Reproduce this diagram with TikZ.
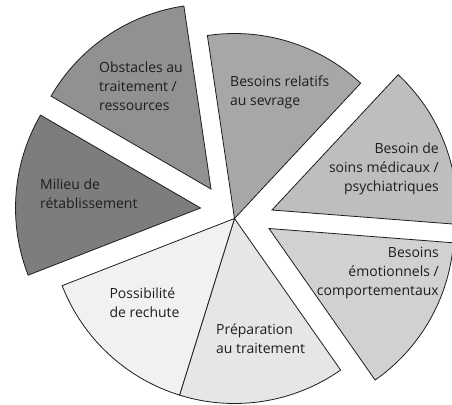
\documentclass[tikz,border=0pt]{standalone}
\usepackage{fontspec}
\setmainfont{Open Sans}
\definecolor{fobst}{RGB}{145,145,146}
\definecolor{fsevr}{RGB}{165,167,169}
\definecolor{fsoin}{RGB}{189,190,191}
\definecolor{femot}{RGB}{208,209,210}
\definecolor{fprep}{RGB}{230,230,230}
\definecolor{fposs}{RGB}{241,241,241}
\definecolor{fmil}{RGB}{125,125,126}
\definecolor{ink}{RGB}{30,30,30}
\begin{document}
\begin{tikzpicture}[x=1pt,y=1pt,
  slice/.style={draw=ink, line width=0.8pt, line join=miter},
  label/.style={inner sep=0pt, text=ink, font=\fontsize{14}{19}\selectfont},
  lbl/.style={label, align=left, anchor=west},
  lbr/.style={label, align=right, anchor=east}]
\useasboundingbox (0,-404) rectangle (452,0);
\clip (0,-404) rectangle (452,0);
\def\R{185}
% slice apexes
\coordinate (c)  at (234.5,-218.5);
\coordinate (co) at (211,-189);
\coordinate (cm) at (200.5,-208);
\coordinate (cs) at (272,-210);
\coordinate (ce) at (269,-228.5);
% sectors, seven equal angles
\draw[slice, fill=fobst] (co) -- ++(98.43:\R) arc[start angle=98.43, end angle=149.86, radius=\R] -- cycle;
\draw[slice, fill=fsevr] (c) -- ++(47:\R) arc[start angle=47, end angle=98.43, radius=\R] -- cycle;
\draw[slice, fill=fsoin] (cs) -- ++(-4.43:\R) arc[start angle=-4.43, end angle=47, radius=\R] -- cycle;
\draw[slice, fill=femot] (ce) -- ++(-55:\R) arc[start angle=-55, end angle=-4.43, radius=\R] -- cycle;
\draw[slice, fill=fprep] (c) -- ++(252.71:\R) arc[start angle=252.71, end angle=305, radius=\R] -- cycle;
\draw[slice, fill=fposs] (c) -- ++(201.29:\R) arc[start angle=201.29, end angle=252.71, radius=\R] -- cycle;
\draw[slice, fill=fmil] (cm) -- ++(149.86:\R) arc[start angle=149.86, end angle=201.29, radius=\R] -- cycle;
% labels
\node[lbl] (tobst) at (99,-86) {Obstacles au\\traitement /\\ressources};
\node[lbl] (tsevr) at (230,-92.5) {Besoins relatifs\\au sevrage};
\node[lbr] (tsoin) at (439,-169) {Besoin de\\soins médicaux /\\psychiatriques};
\node[lbr] (temot) at (439,-273.5) {Besoins\\émotionnels /\\comportementaux};
\node[lbl] (tmil)  at (40,-193.3) {Milieu de\\rétablissement};
\node[lbl] (tposs) at (109.3,-303) {Possibilité\\de rechute};
\node[lbl] (tprep) at (216,-339) {Préparation\\au traitement};
\end{tikzpicture}
\end{document}
